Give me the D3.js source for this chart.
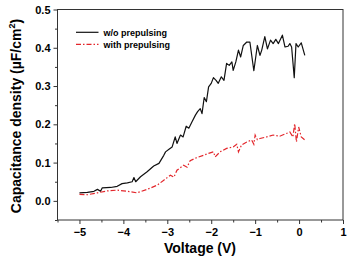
<!DOCTYPE html>
<html><head><meta charset="utf-8">
<script src="https://cdn.jsdelivr.net/npm/d3@7"></script>
<style>
html,body{margin:0;padding:0;background:#fff;}
text{font-family:"Liberation Sans",Arial,sans-serif;font-weight:bold;}
</style></head>
<body><svg id="c" width="347" height="257"></svg>
<script>
// Data
const voltsBlack = [-5,-4.82,-4.67,-4.59,-4.52,-4.48,-4.29,-4.14,-4.03,-3.91,-3.8,-3.76,-3.72,-3.61,-3.46,-3.31,-3.19,-3.08,-3.04,-2.97,-2.89,-2.82,-2.78,-2.7,-2.64,-2.57,-2.51,-2.44,-2.36,-2.31,-2.25,-2.21,-2.16,-2.11,-2.06,-2.0,-1.95,-1.89,-1.84,-1.77,-1.71,-1.65,-1.59,-1.53,-1.5,-1.44,-1.38,-1.33,-1.27,-1.19,-1.12,-1.03,-0.95,-0.89,-0.85,-0.78,-0.72,-0.65,-0.59,-0.53,-0.47,-0.38,-0.32,-0.25,-0.21,-0.17,-0.11,-0.07,-0.02,0.05,0.13];
const capBlack = [0.021,0.022,0.025,0.03,0.025,0.034,0.035,0.038,0.045,0.047,0.05,0.061,0.05,0.063,0.076,0.091,0.098,0.119,0.128,0.134,0.141,0.167,0.15,0.172,0.167,0.195,0.19,0.206,0.224,0.233,0.241,0.228,0.27,0.259,0.298,0.307,0.322,0.315,0.307,0.324,0.315,0.359,0.354,0.363,0.341,0.363,0.394,0.376,0.406,0.415,0.415,0.34,0.406,0.38,0.394,0.429,0.397,0.42,0.411,0.422,0.411,0.433,0.402,0.404,0.411,0.402,0.322,0.411,0.402,0.413,0.38];
const voltsRed = [-5,-4.82,-4.59,-4.37,-4.14,-3.91,-3.69,-3.46,-3.23,-3.08,-2.93,-2.85,-2.78,-2.63,-2.55,-2.48,-2.33,-2.18,-2.06,-1.95,-1.91,-1.8,-1.65,-1.5,-1.42,-1.38,-1.31,-1.19,-1.08,-1.03,-1.0,-0.95,-0.89,-0.74,-0.59,-0.44,-0.29,-0.21,-0.14,-0.1,-0.06,-0.01,0.05,0.13];
const capRed = [0.017,0.016,0.021,0.026,0.028,0.025,0.021,0.03,0.041,0.054,0.067,0.062,0.08,0.093,0.088,0.105,0.113,0.119,0.124,0.128,0.115,0.128,0.137,0.141,0.148,0.128,0.146,0.154,0.159,0.148,0.172,0.16,0.163,0.167,0.172,0.169,0.176,0.18,0.167,0.202,0.154,0.193,0.167,0.159];
const xTicks = [-5,-4,-3,-2,-1,0,1];
const yTicks = [0.0,0.1,0.2,0.3,0.4,0.5];
const seriesNames = ["w/o prepulsing","with prepulsing"];

const svg = d3.select("#c");
const L=57.5, R=343, T=9.5, B=220;
const x = d3.scaleLinear().domain([-5.5,1]).range([L,R]);
const y = d3.scaleLinear().domain([-0.05,0.5]).range([B,T]);

// frame
svg.append("rect").attr("x",L).attr("y",T).attr("width",R-L).attr("height",B-T)
  .attr("fill","none").attr("stroke","#333").attr("stroke-width",1);

// x axis
const xMinor = d3.range(-5.5,1.01,0.5).filter(v=>!xTicks.includes(v));
svg.append("g").attr("transform",`translate(0,${B})`)
  .call(d3.axisBottom(x).tickValues(xMinor).tickSize(2.5).tickFormat(""))
  .call(g=>{g.select(".domain").remove(); g.selectAll("line").attr("stroke","#333");});
svg.append("g").attr("transform",`translate(0,${B})`)
  .call(d3.axisBottom(x).tickValues(xTicks).tickSize(4).tickPadding(4).tickFormat(d3.format("d")))
  .call(g=>{g.select(".domain").remove(); g.selectAll("line").attr("stroke","#333");
    g.selectAll("text").attr("font-size",11).attr("fill","#000").attr("font-family","Liberation Sans, Arial, sans-serif").attr("font-weight","bold");});

// y axis
const yMinor = d3.range(-0.05,0.501,0.1);
svg.append("g").attr("transform",`translate(${L},0)`)
  .call(d3.axisLeft(y).tickValues(yMinor).tickSize(2.5).tickFormat(""))
  .call(g=>{g.select(".domain").remove(); g.selectAll("line").attr("stroke","#333");});
svg.append("g").attr("transform",`translate(${L},0)`)
  .call(d3.axisLeft(y).tickValues(yTicks).tickSize(4).tickPadding(3).tickFormat(d3.format(".1f")))
  .call(g=>{g.select(".domain").remove(); g.selectAll("line").attr("stroke","#333");
    g.selectAll("text").attr("font-size",11).attr("fill","#000").attr("font-family","Liberation Sans, Arial, sans-serif").attr("font-weight","bold");});

// titles
svg.append("text").attr("x",200).attr("y",253).attr("text-anchor","middle")
  .attr("font-size",14).text("Voltage (V)");
const yt = svg.append("text").attr("transform","translate(21,116) rotate(-90)")
  .attr("text-anchor","middle").attr("font-size",14);
yt.append("tspan").text("Capacitance density (\u00B5F/cm");
yt.append("tspan").attr("font-size",9).attr("dy",-6).text("2");
yt.append("tspan").attr("dy",6).text(")");

// lines
const line = d3.line().x(d=>x(d[0])).y(d=>y(d[1]));
const blackData = voltsBlack.map((v,i)=>[v,capBlack[i]]);
const redData = voltsRed.map((v,i)=>[v,capRed[i]]);
svg.append("path").datum(blackData).attr("d",line).attr("fill","none")
  .attr("stroke","#111").attr("stroke-width",1.2).attr("stroke-linejoin","round");
svg.append("path").datum(redData).attr("d",line).attr("fill","none")
  .attr("stroke","#e3262b").attr("stroke-width",1.2).attr("stroke-dasharray","5,2,1.5,2");

// legend
const leg = [{name:seriesNames[0],color:"#111",dash:null,yy:32.3},{name:seriesNames[1],color:"#e3262b",dash:"5,2,1.5,2",yy:44.3}];
leg.forEach(d=>{
  svg.append("line").attr("x1",76).attr("x2",98.5).attr("y1",d.yy).attr("y2",d.yy)
    .attr("stroke",d.color).attr("stroke-width",1.2).attr("stroke-dasharray",d.dash);
  svg.append("text").attr("x",103.5).attr("y",d.yy+3.2).attr("font-size",9).text(d.name);
});
</script></body></html>
